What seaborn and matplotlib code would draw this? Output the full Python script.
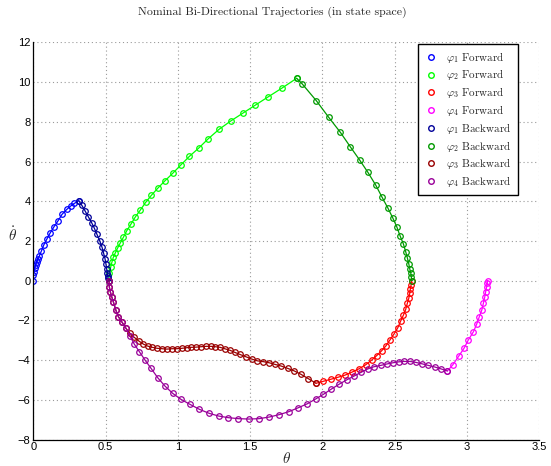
import matplotlib
matplotlib.use('Agg')
import matplotlib.pyplot as plt
from matplotlib.lines import Line2D
import seaborn as sns

# (theta, theta_dot) samples
phi1_fwd_theta = [0.000, 0.001, 0.006, 0.010, 0.017, 0.024, 0.033, 0.042, 0.056, 0.073, 0.093,
                  0.116, 0.144, 0.172, 0.199, 0.232, 0.259, 0.284, 0.315]
phi1_fwd_dtheta = [0.00, 0.29, 0.45, 0.62, 0.79, 0.93, 1.09, 1.24, 1.49, 1.80, 2.08,
                   2.39, 2.72, 3.02, 3.34, 3.59, 3.76, 3.89, 4.03]

phi1_bwd_theta = [0.315, 0.335, 0.358, 0.381, 0.404, 0.423, 0.441, 0.460, 0.476, 0.487, 0.497,
                  0.503, 0.508, 0.513, 0.515, 0.517, 0.524]
phi1_bwd_dtheta = [4.03, 3.81, 3.52, 3.22, 2.92, 2.64, 2.33, 2.01, 1.68, 1.38, 1.09,
                   0.84, 0.60, 0.40, 0.24, 0.12, 0.00]

phi2_fwd_theta = [0.524, 0.526, 0.536, 0.545, 0.554, 0.568, 0.584, 0.602, 0.623, 0.647, 0.676,
                  0.706, 0.741, 0.778, 0.817, 0.863, 0.911, 0.965, 1.020, 1.080, 1.145, 1.211,
                  1.285, 1.368, 1.451, 1.534, 1.626, 1.721, 1.822]
phi2_fwd_dtheta = [0.00, 0.37, 0.70, 0.96, 1.18, 1.41, 1.65, 1.90, 2.18, 2.52, 2.85,
                   3.21, 3.56, 3.95, 4.30, 4.67, 5.03, 5.41, 5.82, 6.26, 6.68, 7.15,
                   7.62, 8.05, 8.44, 8.83, 9.26, 9.70, 10.19]

phi2_bwd_theta = [1.822, 1.861, 1.958, 2.044, 2.124, 2.193, 2.258, 2.315, 2.369, 2.412, 2.452,
                  2.486, 2.514, 2.537, 2.560, 2.576, 2.587, 2.597, 2.604, 2.611, 2.615, 2.618]
phi2_bwd_dtheta = [10.19, 9.90, 9.06, 8.22, 7.47, 6.74, 6.07, 5.45, 4.81, 4.21, 3.67,
                   3.17, 2.72, 2.26, 1.85, 1.46, 1.16, 0.86, 0.60, 0.39, 0.19, 0.00]

phi3_fwd_theta = [1.956, 2.006, 2.057, 2.106, 2.156, 2.207, 2.253, 2.299, 2.341, 2.375, 2.410,
                  2.440, 2.467, 2.497, 2.521, 2.541, 2.560, 2.576, 2.587, 2.597, 2.604, 2.608,
                  2.613, 2.618]
phi3_fwd_dtheta = [-5.16, -5.06, -4.96, -4.86, -4.75, -4.59, -4.43, -4.23, -3.99, -3.77, -3.52,
                   -3.27, -2.98, -2.66, -2.37, -2.03, -1.73, -1.44, -1.14, -0.89, -0.63, -0.42,
                   -0.22, 0.00]

phi3_bwd_theta = [0.524, 0.526, 0.533, 0.543, 0.554, 0.571, 0.589, 0.612, 0.642, 0.669, 0.699,
                  0.730, 0.762, 0.792, 0.824, 0.858, 0.891, 0.925, 0.960, 0.994, 1.027, 1.061,
                  1.094, 1.128, 1.160, 1.195, 1.227, 1.259, 1.292, 1.324, 1.361, 1.396, 1.430,
                  1.469, 1.511, 1.550, 1.591, 1.633, 1.672, 1.714, 1.760, 1.806, 1.852, 1.903,
                  1.956]
phi3_bwd_dtheta = [0.00, -0.30, -0.55, -0.81, -1.06, -1.47, -1.81, -2.06, -2.40, -2.65, -2.85,
                   -3.03, -3.19, -3.29, -3.35, -3.40, -3.42, -3.44, -3.42, -3.42, -3.40, -3.37,
                   -3.35, -3.34, -3.32, -3.30, -3.30, -3.32, -3.35, -3.42, -3.50, -3.61, -3.71,
                   -3.82, -3.94, -4.03, -4.07, -4.13, -4.21, -4.29, -4.41, -4.54, -4.71, -4.93,
                   -5.16]

phi4_fwd_theta = [2.864, 2.901, 2.943, 2.979, 3.009, 3.044, 3.067, 3.085, 3.102, 3.113, 3.122,
                  3.129, 3.136, 3.140, 3.142]
phi4_fwd_dtheta = [-4.54, -4.24, -3.79, -3.40, -2.98, -2.57, -2.18, -1.81, -1.48, -1.14, -0.84,
                   -0.55, -0.30, -0.13, 0.00]

phi4_bwd_theta = [0.524, 0.526, 0.533, 0.543, 0.554, 0.571, 0.589, 0.612, 0.642, 0.669, 0.699,
                  0.734, 0.773, 0.815, 0.861, 0.911, 0.965, 1.022, 1.084, 1.149, 1.216, 1.283,
                  1.349, 1.419, 1.492, 1.562, 1.631, 1.700, 1.767, 1.833, 1.896, 1.953, 2.006,
                  2.062, 2.117, 2.170, 2.218, 2.267, 2.313, 2.355, 2.403, 2.445, 2.486, 2.528,
                  2.566, 2.606, 2.647, 2.689, 2.732, 2.777, 2.818, 2.864]
phi4_bwd_dtheta = [0.00, -0.30, -0.55, -0.81, -1.06, -1.47, -1.81, -2.06, -2.40, -2.78, -3.19,
                   -3.57, -3.99, -4.41, -4.88, -5.30, -5.67, -5.97, -6.22, -6.47, -6.67, -6.81,
                   -6.89, -6.94, -6.96, -6.94, -6.86, -6.74, -6.59, -6.39, -6.19, -5.95, -5.72,
                   -5.45, -5.20, -4.98, -4.80, -4.61, -4.44, -4.33, -4.26, -4.19, -4.13, -4.08,
                   -4.06, -4.06, -4.11, -4.18, -4.26, -4.34, -4.43, -4.54]

labels = [r'$\varphi_1$ Forward', r'$\varphi_2$ Forward', r'$\varphi_3$ Forward', r'$\varphi_4$ Forward',
          r'$\varphi_1$ Backward', r'$\varphi_2$ Backward', r'$\varphi_3$ Backward', r'$\varphi_4$ Backward']
colors = ['#0000ff', '#00ff00', '#ff0000', '#ff00ff', '#000099', '#009900', '#990000', '#990099']

x_ticks = [0, 0.5, 1, 1.5, 2, 2.5, 3, 3.5]
x_tick_labels = ['0', '0.5', '1', '1.5', '2', '2.5', '3', '3.5']
y_ticks = [-8, -6, -4, -2, 0, 2, 4, 6, 8, 10, 12]
y_tick_labels = ['\u22128', '\u22126', '\u22124', '\u22122', '0', '2', '4', '6', '8', '10', '12']

series = [
    (phi1_fwd_theta, phi1_fwd_dtheta),
    (phi2_fwd_theta, phi2_fwd_dtheta),
    (phi3_fwd_theta, phi3_fwd_dtheta),
    (phi4_fwd_theta, phi4_fwd_dtheta),
    (phi1_bwd_theta, phi1_bwd_dtheta),
    (phi2_bwd_theta, phi2_bwd_dtheta),
    (phi3_bwd_theta, phi3_bwd_dtheta),
    (phi4_bwd_theta, phi4_bwd_dtheta),
]

sns.set_style('white')
plt.rcParams['font.family'] = ['Liberation Sans', 'DejaVu Sans']
plt.rcParams['mathtext.fontset'] = 'cm'

fig = plt.figure(figsize=(5.51, 4.66), dpi=100)
ax = fig.add_axes([0.0603, 0.0564, 0.9185, 0.8528])

for (th, dth), c in zip(series, colors):
    sns.lineplot(x=th, y=dth, sort=False, estimator=None, ax=ax, color=c, linewidth=0.9,
                 marker='o', markersize=4, markerfacecolor='none', markeredgecolor=c,
                 markeredgewidth=0.9, legend=False)

ax.set_xlim(0, 3.5)
ax.set_ylim(-8, 12)
ax.set_xticks(x_ticks)
ax.set_xticklabels(x_tick_labels)
ax.set_yticks(y_ticks)
ax.set_yticklabels(y_tick_labels)
ax.tick_params(direction='in', length=3, width=0.8, labelsize=8, colors='black', pad=2)

ax.set_axisbelow(True)
ax.grid(True, color='#9a9a9a', linestyle=(0, (1, 2.5)), linewidth=0.8)
for side in ['top', 'right']:
    ax.spines[side].set_visible(False)
for side in ['left', 'bottom']:
    ax.spines[side].set_color('black')
    ax.spines[side].set_linewidth(0.9)

ax.set_xlabel(r'$\theta$', fontsize=11, va='center')
ax.xaxis.set_label_coords(0.5, -0.047)
ax.set_ylabel(r'$\dot{\theta}$', fontsize=11, rotation=0, va='center')
ax.yaxis.set_label_coords(-0.04, 0.515)

fig.text(0.495, 1 - 12 / 466, 'Nominal Bi-Directional Trajectories (in state space)',
         family='cmr10', fontsize=8.5, ha='center', va='center')

handles = [Line2D([], [], linestyle='none', marker='o', markersize=4, markerfacecolor='none',
                  markeredgecolor=c, markeredgewidth=1.0) for c in colors]
leg = ax.legend(handles, labels, loc='upper right', bbox_to_anchor=(0.957, 0.997),
                frameon=True, fancybox=False, edgecolor='black', framealpha=1,
                prop={'family': 'cmr10', 'size': 8}, borderaxespad=0, labelspacing=0.25,
                handlelength=1.4, handletextpad=0.6, borderpad=0.55)
leg.get_frame().set_linewidth(1.0)

fig.savefig('out.png', dpi=100)
